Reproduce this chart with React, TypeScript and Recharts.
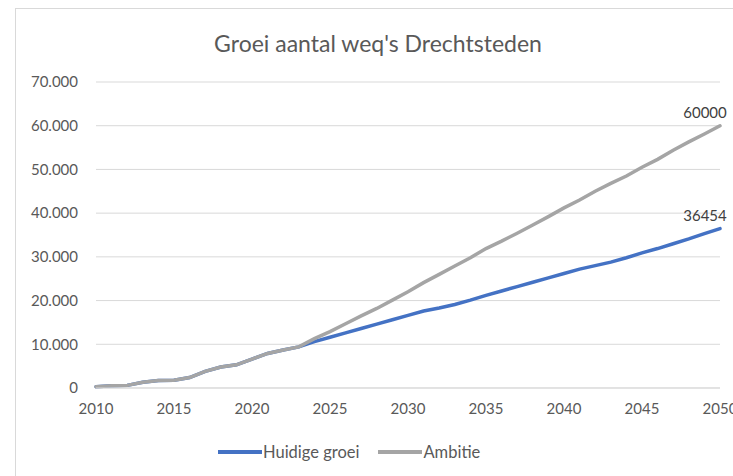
import { LineChart, Line, XAxis, YAxis, CartesianGrid } from "recharts";

const YEARS = [
  2010, 2011, 2012, 2013, 2014, 2015, 2016, 2017, 2018, 2019, 2020, 2021, 2022, 2023,
  2024, 2025, 2026, 2027, 2028, 2029, 2030, 2031, 2032, 2033, 2034, 2035, 2036, 2037,
  2038, 2039, 2040, 2041, 2042, 2043, 2044, 2045, 2046, 2047, 2048, 2049, 2050,
];

const HUIDIGE_GROEI = [
  300, 500, 600, 1300, 1700, 1800, 2400, 3800, 4800, 5300, 6600, 7900, 8700, 9400,
  10600, 11600, 12600, 13600, 14600, 15600, 16600, 17600, 18300, 19100, 20100, 21200,
  22200, 23200, 24200, 25200, 26200, 27200, 28000, 28800, 29800, 30900, 31900, 33000,
  34100, 35300, 36454,
];

const AMBITIE = [
  300, 500, 600, 1300, 1700, 1800, 2400, 3800, 4800, 5300, 6600, 7900, 8700, 9400,
  11300, 12900, 14700, 16500, 18200, 20100, 22000, 24100, 26000, 27900, 29800, 31900,
  33600, 35400, 37300, 39200, 41200, 43000, 45000, 46800, 48500, 50500, 52300, 54400,
  56300, 58100, 60000,
];

const Y_TICKS = [0, 10000, 20000, 30000, 40000, 50000, 60000, 70000];
const X_TICKS = [2010, 2015, 2020, 2025, 2030, 2035, 2040, 2045, 2050];

const SERIES = [
  { key: "huidige", name: "Huidige groei", color: "#4472C4", values: HUIDIGE_GROEI },
  { key: "ambitie", name: "Ambitie", color: "#A5A5A5", values: AMBITIE },
];

const data = YEARS.map((year, i) => ({
  year,
  huidige: HUIDIGE_GROEI[i],
  ambitie: AMBITIE[i],
}));

const FONT = "Lato, 'Open Sans', sans-serif";
const TEXT = "#595959";

const formatThousands = (n: number) =>
  String(n).replace(/\B(?=(\d{3})+(?!\d))/g, ".");

const lastLabel = (props: any) => {
  const { x, y, index, value } = props;
  if (index !== YEARS.length - 1) return null;
  return (
    <text
      x={x - 15}
      y={y - 14}
      textAnchor="middle"
      dominantBaseline="central"
      fontSize={15}
      fontFamily={FONT}
      fill="#404040"
    >
      {value}
    </text>
  );
};

export default function App() {
  return (
    <div
      style={{
        position: "absolute",
        left: 0,
        top: 0,
        width: 733,
        height: 476,
        background: "#fff",
        overflow: "hidden",
        fontFamily: FONT,
      }}
    >
      {/* chart frame */}
      <div
        style={{
          position: "absolute",
          left: 15,
          top: 8,
          width: 760,
          height: 520,
          border: "1px solid #d9d9d9",
        }}
      />
      <div
        style={{
          position: "absolute",
          left: 0,
          width: 756,
          top: 29,
          textAlign: "center",
          fontSize: 23,
          lineHeight: "28px",
          color: TEXT,
        }}
      >
        Groei aantal weq's Drechtsteden
      </div>

      <div style={{ position: "absolute", left: 0, top: 0 }}>
        <LineChart
          width={733}
          height={476}
          data={data}
          margin={{ top: 82, right: 13, bottom: 58, left: 30 }}
        >
          <CartesianGrid vertical={false} stroke="#d9d9d9" />
          <XAxis
            dataKey="year"
            ticks={X_TICKS}
            interval={0}
            axisLine={{ stroke: "#d9d9d9" }}
            tickLine={false}
            tickSize={0}
            tickMargin={15}
            height={30}
            tick={{ fill: TEXT, fontSize: 15, fontFamily: FONT }}
          />
          <YAxis
            domain={[0, 70000]}
            ticks={Y_TICKS}
            width={66}
            axisLine={false}
            tickLine={false}
            tickSize={0}
            tickMargin={18}
            tickFormatter={formatThousands}
            tick={{ fill: TEXT, fontSize: 15, fontFamily: FONT }}
          />
          {SERIES.map((s) => (
            <Line
              key={s.key}
              dataKey={s.key}
              name={s.name}
              type="linear"
              stroke={s.color}
              strokeWidth={3.5}
              strokeLinecap="round"
              dot={false}
              activeDot={false}
              isAnimationActive={false}
              label={lastLabel}
            />
          ))}
        </LineChart>
      </div>

      {/* legend */}
      <div
        style={{
          position: "absolute",
          left: 218,
          top: 441,
          display: "flex",
          alignItems: "center",
          fontSize: 16.5,
          lineHeight: "22px",
          color: TEXT,
        }}
      >
        {SERIES.map((s, i) => (
          <div
            key={s.key}
            style={{ display: "flex", alignItems: "center", marginRight: i === 0 ? 19 : 0 }}
          >
            <span
              style={{
                display: "inline-block",
                width: 44,
                height: 4,
                background: s.color,
                marginRight: 1,
              }}
            />
            <span>{s.name}</span>
          </div>
        ))}
      </div>
    </div>
  );
}
